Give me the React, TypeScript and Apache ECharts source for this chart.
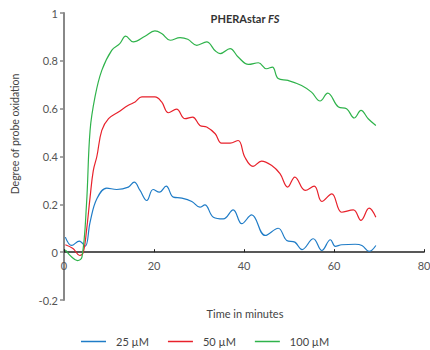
import React, { useEffect, useRef } from "react";
import * as echarts from "echarts";

const FONT = "Lato, 'Open Sans', sans-serif";

const seriesNames = ["25 µM", "50 µM", "100 µM"];
const colors = ["#1f7cc7", "#e8212b", "#2fb34b"];

const xTicks = [0, 20, 40, 60, 80];
const yTicks = [-0.2, 0, 0.2, 0.4, 0.6, 0.8, 1];

const blue: [number, number][] = [
  [0.3, 0.063], [1.7, 0.028], [3.4, 0.046], [4.7, 0.025], [5.8, 0.126], [7.3, 0.223],
  [9.5, 0.268], [11.7, 0.262], [14.3, 0.272], [15.6, 0.293], [16.9, 0.258], [18.4, 0.216],
  [19.8, 0.262], [21.2, 0.251], [22.7, 0.276], [24.3, 0.23], [26.2, 0.226], [28.4, 0.212],
  [30.2, 0.188], [31.3, 0.198], [33.2, 0.146], [35.4, 0.139], [37.6, 0.177], [39.5, 0.119],
  [41.7, 0.156], [44.7, 0.07], [47.6, 0.1], [49.5, 0.049], [51.3, 0.042], [52.9, 0.011],
  [55.4, 0.056], [57.3, 0.007], [59.2, 0.052], [60.3, 0.024], [61.7, 0.031], [64.7, 0.033],
  [66.2, 0.028], [67.8, 0.003], [69.3, 0.028],
];

const red: [number, number][] = [
  [0.3, 0.031], [2.0, 0.015], [3.5, -0.014], [4.3, 0.0], [5.0, 0.09], [5.8, 0.23],
  [6.5, 0.34], [7.3, 0.4], [8.4, 0.509], [9.9, 0.558], [12.1, 0.586], [14.3, 0.614],
  [15.8, 0.628], [17.3, 0.649], [20.2, 0.649], [21.7, 0.628], [23.2, 0.583], [25.0, 0.598],
  [26.9, 0.558], [28.6, 0.565], [30.2, 0.53], [31.7, 0.523], [33.6, 0.495], [35.0, 0.456],
  [36.9, 0.456], [38.7, 0.467], [40.2, 0.397], [42.0, 0.359], [43.9, 0.381], [46.1, 0.363],
  [48.0, 0.328], [49.7, 0.272], [51.3, 0.314], [53.6, 0.258], [55.6, 0.276], [57.3, 0.212],
  [59.5, 0.244], [61.7, 0.167], [64.3, 0.177], [66.0, 0.133], [67.8, 0.184], [69.3, 0.146],
];

const green: [number, number][] = [
  [0.3, 0.01], [1.7, -0.02], [3.0, -0.035], [4.0, -0.02], [5.0, 0.2], [5.8, 0.51],
  [6.9, 0.65], [8.4, 0.76], [10.6, 0.844], [12.4, 0.872], [13.7, 0.903], [15.4, 0.879],
  [18.0, 0.903], [20.2, 0.925], [21.7, 0.914], [23.6, 0.886], [25.8, 0.897], [27.5, 0.89],
  [29.5, 0.865], [31.7, 0.879], [33.6, 0.842], [34.7, 0.83], [36.9, 0.851], [38.7, 0.816],
  [41.0, 0.785], [43.2, 0.792], [45.0, 0.767], [46.3, 0.774], [47.6, 0.726], [49.8, 0.718],
  [52.8, 0.697], [55.0, 0.669], [56.9, 0.632], [58.6, 0.665], [61.0, 0.607], [62.8, 0.6],
  [64.5, 0.561], [66.0, 0.593], [67.6, 0.558], [69.3, 0.53],
];

const seriesData = [blue, red, green];

const GRID_TOP = 13;
const GRID_BOTTOM = 50;
const CHART_H = 350;

export default function App() {
  const ref = useRef<HTMLDivElement>(null);
  useEffect(() => {
    if (!ref.current) return;
    const chart = echarts.init(ref.current, null, { renderer: "svg" });
    const plotH = CHART_H - GRID_TOP - GRID_BOTTOM;
    const yMin = yTicks[0];
    const yMax = yTicks[yTicks.length - 1];
    const zeroOffset = (-yMin / (yMax - yMin)) * plotH;
    chart.setOption({
      animation: false,
      backgroundColor: "#ffffff",
      textStyle: { fontFamily: FONT },
      title: {
        text: "{a|PHERAstar }{b|FS}",
        left: 240,
        top: 8,
        textAlign: "center",
        textStyle: {
          rich: {
            a: { fontFamily: FONT, fontWeight: "bold", fontSize: 11, color: "#333" },
            b: { fontFamily: FONT, fontWeight: "bold", fontStyle: "italic", fontSize: 11, color: "#333" },
          },
        },
      },
      graphic: [
        {
          type: "text",
          x: 15,
          y: 134,
          rotation: Math.PI / 2,
          style: {
            text: "Degree of probe oxidation",
            fontFamily: FONT,
            fontSize: 10.5,
            fill: "#444",
            align: "center",
            verticalAlign: "middle",
          },
        },
        {
          type: "text",
          x: 245,
          y: 313,
          style: {
            text: "Time in minutes",
            fontFamily: FONT,
            fontSize: 11,
            fill: "#444",
            align: "center",
            verticalAlign: "middle",
          },
        },
      ],
      legend: {
        top: 336,
        left: 81,
        padding: 0,
        icon: "rect",
        itemWidth: 25,
        itemHeight: 1.5,
        itemGap: 19,
        data: seriesNames,
        textStyle: { fontFamily: FONT, fontSize: 11, color: "#444", padding: [0, 0, 0, 5] },
      },
      grid: { left: 64, right: 6, top: GRID_TOP, bottom: GRID_BOTTOM, containLabel: false, outerBoundsMode: "none" },
      xAxis: {
        type: "value",
        min: xTicks[0],
        max: xTicks[xTicks.length - 1],
        interval: 20,
        position: "bottom",
        offset: -zeroOffset,
        axisLine: { onZero: false, lineStyle: { color: "#222", width: 1.5 } },
        axisTick: { show: true, inside: true, length: 3, lineStyle: { color: "#222" } },
        axisLabel: { fontFamily: FONT, fontSize: 11, color: "#555", margin: 8, showMaxLabel: true },
        splitLine: { show: false },
      },
      yAxis: {
        type: "value",
        min: yMin,
        max: yMax,
        interval: 0.2,
        axisLine: { show: true, lineStyle: { color: "#888", width: 2 } },
        axisTick: { show: true, length: 4, lineStyle: { color: "#888", width: 1.5 } },
        axisLabel: {
          fontFamily: FONT,
          fontSize: 11,
          color: "#555",
          margin: 6,
          formatter: (v: number) => String(Math.round(v * 10) / 10),
        },
        splitLine: { show: false },
      },
      series: seriesNames.map((name, i) => ({
        name,
        type: "line",
        data: seriesData[i],
        smooth: 0.4,
        symbol: "none",
        lineStyle: { color: colors[i], width: 1.2 },
        itemStyle: { color: colors[i] },
      })),
    });
    return () => chart.dispose();
  }, []);
  return (
    <div
      ref={ref}
      style={{ position: "absolute", left: 0, top: 0, width: 430, height: 350 }}
    />
  );
}
